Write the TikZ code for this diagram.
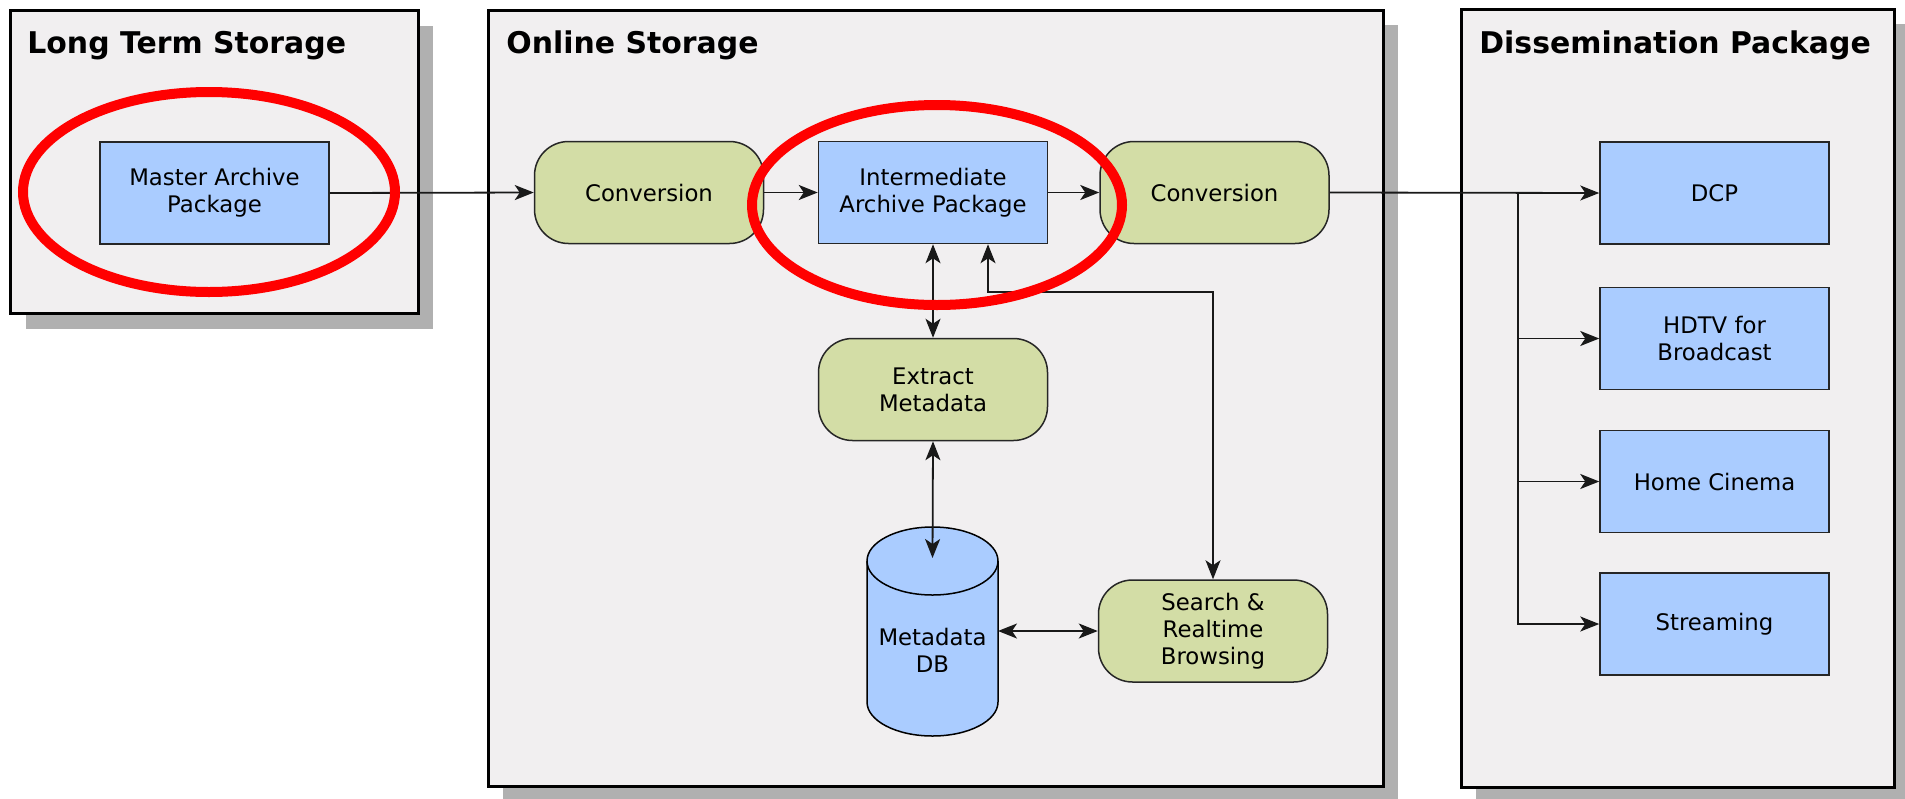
\documentclass[tikz,border=0pt]{standalone}
\usepackage{fontspec}
\setmainfont{DejaVu Sans}
\usetikzlibrary{arrows.meta}
\definecolor{panelfill}{HTML}{F1EFF0}
\definecolor{boxblue}{HTML}{AACCFF}
\definecolor{procgreen}{HTML}{D3DDA6}
\definecolor{shadowgrey}{HTML}{B0B0B0}
\begin{document}
\begin{tikzpicture}[x=0.5pt,y=0.5pt,
  panel/.style={draw=black, line width=1.5pt, fill=panelfill},
  panelshadow/.style={fill=shadowgrey, draw=none},
  paneltitle/.style={anchor=base west, inner sep=0pt, font=\bfseries\fontsize{14.95}{17.5}\selectfont},
  databox/.style={draw=black!85, line width=0.75pt, fill=boxblue, minimum width=114.5pt, minimum height=51pt, inner sep=0pt, align=center, font=\fontsize{11.4}{13.6}\selectfont},
  procbox/.style={databox, fill=procgreen, rounded corners=17pt},
  dblabel/.style={inner sep=0pt, align=center, font=\fontsize{11.4}{13.6}\selectfont},
  conn/.style={line width=0.9pt, draw=black!90},
  arr/.style={conn, -{Stealth[length=9.5pt,width=7.5pt,inset=2.5pt]}},
  biarr/.style={conn, {Stealth[length=9.5pt,width=7.5pt,inset=2.5pt]}-{Stealth[length=9.5pt,width=7.5pt,inset=2.5pt]}},
  highlight/.style={draw=red, line width=5pt},
]
\useasboundingbox (0,0) rectangle (1905,-798);

% panels with shadows
\fill[panelshadow] (26,-26) rectangle (433,-329);
\draw[panel] (10,-10) rectangle (418,-313);
\fill[panelshadow] (503,-25) rectangle (1398,-801);
\draw[panel] (488,-10) rectangle (1383,-786);
\fill[panelshadow] (1476,-24) rectangle (1909,-802);
\draw[panel] (1461,-9) rectangle (1894,-787);

\node[paneltitle] (ltstitle) at (27,-53) {Long Term Storage};
\node[paneltitle] (ostitle) at (506,-53) {Online Storage};
\node[paneltitle] (dptitle) at (1479,-53) {Dissemination Package};

% nodes
\node[databox] (master) at (214.5,-193) {Master Archive\\Package};
\node[procbox] (conv1) at (649,-192.5) {Conversion};
\node[databox] (iap) at (933,-192.5) {Intermediate\\Archive Package};
\node[procbox] (conv2) at (1214.5,-192.5) {Conversion};
\node[procbox] (extract) at (933,-389.5) {Extract\\Metadata};
\node[procbox] (search) at (1213,-631) {Search \&\\Realtime\\Browsing};
\node[databox] (dcp) at (1714.5,-193) {DCP};
\node[databox] (hdtv) at (1714.5,-338.5) {HDTV for\\Broadcast};
\node[databox] (home) at (1714.5,-481.5) {Home Cinema};
\node[databox] (stream) at (1714.5,-624) {Streaming};

% database cylinder
\path[fill=boxblue, draw=black, line width=0.75pt] (867,-561) -- (867,-702)
  arc[start angle=180, end angle=360, x radius=65.5, y radius=34] -- (998,-561)
  arc[start angle=0, end angle=180, x radius=65.5, y radius=34] -- cycle;
\draw[line width=0.75pt] (867,-561) arc[start angle=180, end angle=360, x radius=65.5, y radius=34];
\node[dblabel] (db) at (932.5,-650) {Metadata\\DB};
\coordinate (dbtop) at (932.5,-558);
\coordinate (dbside) at (998,-631);

% connectors
\coordinate (split) at (1518,-193);
\draw[arr] (master.east) -- (conv1.west);
\draw[arr] (conv1.east) -- (iap.west);
\draw[arr] (iap.east) -- (conv2.west);
\draw[arr] (conv2.east) -- (dcp.west);
\draw[arr] (split) |- (hdtv.west);
\draw[arr] (split) |- (home.west);
\draw[arr] (split) |- (stream.west);
\draw[biarr] (iap.south) -- (extract.north);
\draw[biarr] (extract.south) -- (dbtop);
\draw[biarr] (dbside) -- (search.west);
\draw[biarr] ([xshift=27.5pt]iap.south) -- ++(0,-48) -| (search.north);

% highlights
\draw[highlight] (209,-192) ellipse[x radius=186, y radius=100];
\draw[highlight] (937,-205) ellipse[x radius=185, y radius=100];
\end{tikzpicture}
\end{document}
